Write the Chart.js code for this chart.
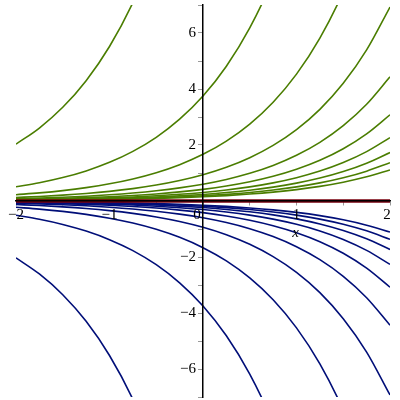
<!DOCTYPE html>
<html>
<head>
<meta charset="utf-8">
<script src="https://cdn.jsdelivr.net/npm/chart.js@4.4.1/dist/chart.umd.min.js"></script>
<style>
html,body{margin:0;padding:0;background:#fff;}
#wrap{width:400px;height:400px;}
</style>
</head>
<body>
<div id="wrap"><canvas id="c" width="400" height="400"></canvas></div>
<script>
// x sample points
const xs = [-2, -1.75, -1.5, -1.25, -1, -0.75, -0.5, -0.25, 0, 0.25, 0.5, 0.75, 1, 1.25, 1.5, 1.75, 2];

// green (positive) solution curves, values read at xs
const g1  = [2.030, 2.607, 3.347, 4.298, 5.518, 7.086, 9.098, 11.68, 15.00, null, null, null, null, null, null, null, null];
const g2  = [0.5075, 0.6518, 0.8367, 1.074, 1.380, 1.772, 2.274, 2.921, 3.750, 4.815, 6.183, 7.939, 10.19, null, null, null, null];
const g3  = [0.2255, 0.2897, 0.3718, 0.4775, 0.6132, 0.7873, 1.011, 1.298, 1.667, 2.140, 2.748, 3.528, 4.531, 5.817, 7.470, 9.591, 12.32];
const g4  = [0.1269, 0.1629, 0.2092, 0.2686, 0.3449, 0.4429, 0.5686, 0.7301, 0.9375, 1.204, 1.546, 1.985, 2.548, 3.272, 4.202, 5.395, 6.927];
const g5  = [0.0812, 0.1043, 0.1339, 0.1719, 0.2207, 0.2834, 0.3639, 0.4673, 0.6000, 0.7704, 0.9892, 1.270, 1.631, 2.094, 2.689, 3.453, 4.433];
const g6  = [0.0564, 0.0724, 0.0930, 0.1194, 0.1533, 0.1968, 0.2527, 0.3245, 0.4167, 0.5350, 0.6870, 0.8821, 1.133, 1.454, 1.867, 2.398, 3.079];
const g7  = [0.0414, 0.0532, 0.0683, 0.0877, 0.1126, 0.1446, 0.1857, 0.2384, 0.3061, 0.3930, 0.5047, 0.6480, 0.8321, 1.068, 1.372, 1.762, 2.262];
const g8  = [0.0317, 0.0407, 0.0523, 0.0672, 0.0862, 0.1107, 0.1422, 0.1826, 0.2344, 0.3010, 0.3865, 0.4962, 0.6372, 0.8181, 1.051, 1.349, 1.732];
const g9  = [0.0251, 0.0322, 0.0413, 0.0531, 0.0681, 0.0875, 0.1123, 0.1442, 0.1852, 0.2378, 0.3053, 0.3921, 0.5034, 0.6464, 0.8300, 1.066, 1.368];
const g10 = [0.0203, 0.0261, 0.0335, 0.0430, 0.0552, 0.0709, 0.0910, 0.1168, 0.1500, 0.1926, 0.2473, 0.3176, 0.4077, 0.5235, 0.6723, 0.8632, 1.108];

// blue (negative) solution curves
const b1  = [-2.030, -2.607, -3.347, -4.298, -5.518, -7.086, -9.098, -11.68, -15.00, null, null, null, null, null, null, null, null];
const b2  = [-0.5075, -0.6518, -0.8367, -1.074, -1.380, -1.772, -2.274, -2.921, -3.750, -4.815, -6.183, -7.939, -10.19, null, null, null, null];
const b3  = [-0.2255, -0.2897, -0.3718, -0.4775, -0.6132, -0.7873, -1.011, -1.298, -1.667, -2.140, -2.748, -3.528, -4.531, -5.817, -7.470, -9.591, -12.32];
const b4  = [-0.1269, -0.1629, -0.2092, -0.2686, -0.3449, -0.4429, -0.5686, -0.7301, -0.9375, -1.204, -1.546, -1.985, -2.548, -3.272, -4.202, -5.395, -6.927];
const b5  = [-0.0812, -0.1043, -0.1339, -0.1719, -0.2207, -0.2834, -0.3639, -0.4673, -0.6000, -0.7704, -0.9892, -1.270, -1.631, -2.094, -2.689, -3.453, -4.433];
const b6  = [-0.0564, -0.0724, -0.0930, -0.1194, -0.1533, -0.1968, -0.2527, -0.3245, -0.4167, -0.5350, -0.6870, -0.8821, -1.133, -1.454, -1.867, -2.398, -3.079];
const b7  = [-0.0414, -0.0532, -0.0683, -0.0877, -0.1126, -0.1446, -0.1857, -0.2384, -0.3061, -0.3930, -0.5047, -0.6480, -0.8321, -1.068, -1.372, -1.762, -2.262];
const b8  = [-0.0317, -0.0407, -0.0523, -0.0672, -0.0862, -0.1107, -0.1422, -0.1826, -0.2344, -0.3010, -0.3865, -0.4962, -0.6372, -0.8181, -1.051, -1.349, -1.732];
const b9  = [-0.0251, -0.0322, -0.0413, -0.0531, -0.0681, -0.0875, -0.1123, -0.1442, -0.1852, -0.2378, -0.3053, -0.3921, -0.5034, -0.6464, -0.8300, -1.066, -1.368];
const b10 = [-0.0203, -0.0261, -0.0335, -0.0430, -0.0552, -0.0709, -0.0910, -0.1168, -0.1500, -0.1926, -0.2473, -0.3176, -0.4077, -0.5235, -0.6723, -0.8632, -1.108];

// zero solution
const zeroLine = [0, 0, 0, 0, 0, 0, 0, 0, 0, 0, 0, 0, 0, 0, 0, 0, 0];

// tick labels
const xTickValues = [-2, -1, 0, 1, 2];
const xTickLabels = ['\u22122', '\u22121', '0', '1', '2'];
const yTickValues = [6, 4, 2, -2, -4, -6];
const yTickLabels = ['6', '4', '2', '\u22122', '\u22124', '\u22126'];
const xAxisTitle = 'x';

const GREEN = '#4a7d00';
const BLUE = '#000e78';
const RED = '#78000e';

function mk(data, color, w) {
  return {
    data: data,
    borderColor: color,
    borderWidth: w || 1.6,
    pointRadius: 0,
    fill: false,
    cubicInterpolationMode: 'monotone',
    spanGaps: false
  };
}

const datasets = [
  mk(zeroLine, RED, 3.5),
  mk(g1, GREEN), mk(g2, GREEN), mk(g3, GREEN), mk(g4, GREEN), mk(g5, GREEN),
  mk(g6, GREEN), mk(g7, GREEN), mk(g8, GREEN), mk(g9, GREEN), mk(g10, GREEN),
  mk(b1, BLUE), mk(b2, BLUE), mk(b3, BLUE), mk(b4, BLUE), mk(b5, BLUE),
  mk(b6, BLUE), mk(b7, BLUE), mk(b8, BLUE), mk(b9, BLUE), mk(b10, BLUE)
];

const FONT = '15px "Liberation Serif", "DejaVu Serif", serif';

const labelPlugin = {
  id: 'tickText',
  afterDraw(chart) {
    const ctx = chart.ctx;
    const xs_ = chart.scales.x, ys_ = chart.scales.y;
    const axisY = ys_.getPixelForValue(0);
    const axisX = xs_.getPixelForValue(0);
    ctx.save();
    ctx.fillStyle = '#000';
    ctx.font = FONT;
    ctx.textBaseline = 'middle';
    ctx.textAlign = 'center';
    xTickValues.forEach((v, i) => {
      let px = xs_.getPixelForValue(v);
      if (v === 0) px -= 6;
      if (v === xs_.max) px -= 3;
      ctx.fillText(xTickLabels[i], px, axisY + 14);
    });
    ctx.textAlign = 'right';
    yTickValues.forEach((v, i) => {
      ctx.fillText(yTickLabels[i], axisX - 7, ys_.getPixelForValue(v));
    });
    ctx.font = 'italic ' + FONT;
    ctx.textAlign = 'center';
    ctx.fillText(xAxisTitle, xs_.getPixelForValue(1) - 1, axisY + 32);
    ctx.restore();
  }
};

new Chart(document.getElementById('c'), {
  type: 'line',
  data: { labels: xs, datasets: datasets },
  options: {
    responsive: false,
    animation: false,
    events: [],
    layout: { padding: { left: 16, right: 10, top: 5, bottom: 3 } },
    plugins: { legend: { display: false }, tooltip: { enabled: false } },
    scales: {
      x: {
        type: 'linear',
        min: -2, max: 2,
        position: { y: 0 },
        afterFit: (s) => { s.height = 0; },
        grid: { drawOnChartArea: false, drawTicks: true, tickLength: 4, color: '#9a9a9a', lineWidth: 1 },
        border: { display: true, color: '#000', width: 1.5, z: 1 },
        ticks: { display: false, stepSize: 0.5 }
      },
      y: {
        type: 'linear',
        min: -7, max: 7,
        position: { x: 0 },
        afterFit: (s) => { s.width = 0; },
        grid: { drawOnChartArea: false, drawTicks: true, tickLength: 4, color: '#9a9a9a', lineWidth: 1 },
        border: { display: true, color: '#000', width: 1.5, z: 1 },
        ticks: { display: false, stepSize: 1 }
      }
    }
  },
  plugins: [labelPlugin]
});
</script>
</body>
</html>
